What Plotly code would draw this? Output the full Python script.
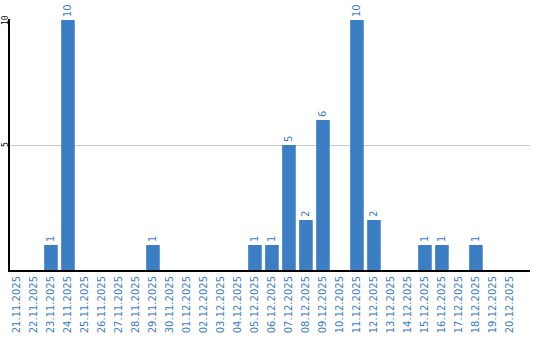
import plotly.graph_objects as go

dates = ["21.11.2025","22.11.2025","23.11.2025","24.11.2025","25.11.2025","26.11.2025",
         "27.11.2025","28.11.2025","29.11.2025","30.11.2025","01.12.2025","02.12.2025",
         "03.12.2025","04.12.2025","05.12.2025","06.12.2025","07.12.2025","08.12.2025",
         "09.12.2025","10.12.2025","11.12.2025","12.12.2025","13.12.2025","14.12.2025",
         "15.12.2025","16.12.2025","17.12.2025","18.12.2025","19.12.2025","20.12.2025"]
values = [0,0,1,10,0,0,0,0,1,0,0,0,0,0,1,1,5,2,6,0,10,2,0,0,1,1,0,1,0,0]
labels = [str(v) if v else "" for v in values]
y_ticks = [5, 10]
y_tick_labels = ["5", "10"]

BLUE = "#3b7ec4"

fig = go.Figure(go.Bar(
    x=list(range(len(dates))), y=values, text=labels,
    textposition="outside", textangle=-90, cliponaxis=False,
    textfont=dict(color=BLUE, size=10, family="DejaVu Sans"),
    marker=dict(color=BLUE, line=dict(width=0)),
    width=0.8,
))

for yv, yt in zip(y_ticks, y_tick_labels):
    fig.add_annotation(
        xref="paper", yref="y", x=0, y=yv, text=yt, showarrow=False,
        textangle=-90, xanchor="center", yanchor="middle", xshift=-5,
        font=dict(color="black", size=8, family="DejaVu Sans Mono"),
    )

fig.update_layout(
    width=540, height=340,
    margin=dict(l=10, r=10, t=19, b=70),
    paper_bgcolor="white", plot_bgcolor="white",
    showlegend=False,
    xaxis=dict(
        tickmode="array", tickvals=list(range(len(dates))), ticktext=dates,
        tickangle=-90, range=[-0.41, 30.18], automargin=False,
        tickfont=dict(color=BLUE, size=10, family="DejaVu Sans"),
        showgrid=False, showline=True, linecolor="black", linewidth=2,
        ticks="", zeroline=False,
    ),
    yaxis=dict(
        range=[0, 10.04], tickvals=y_ticks, showticklabels=False,
        automargin=False,
        showgrid=True, gridcolor="#c8c8c8", gridwidth=1,
        showline=True, linecolor="black", linewidth=2,
        ticks="", zeroline=False,
    ),
)

fig.write_html("out.html")
